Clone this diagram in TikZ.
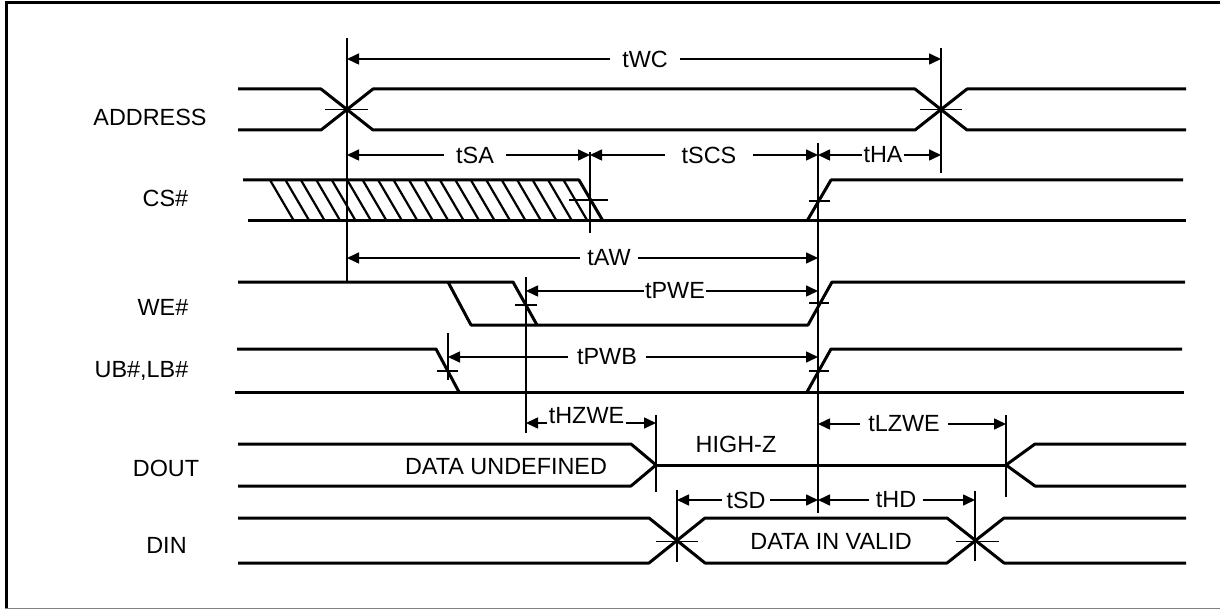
\documentclass[tikz,border=0pt]{standalone}
\usepackage{fontspec}
\setmainfont{Liberation Sans}
\usetikzlibrary{arrows.meta}
\tikzset{
  wave/.style={line width=1.5pt, line join=round},
  thinline/.style={line width=0.8pt},
  hatchline/.style={line width=1.1pt},
  dim/.style={thinline, -{Triangle[length=6pt,width=5.5pt]}},
  lbl/.style={font=\fontsize{11.7pt}{14pt}\selectfont, inner sep=0pt},
  dlbl/.style={lbl, inner xsep=#1},
  sig/.style={lbl, anchor=base},
}
\begin{document}
\begin{tikzpicture}[x=0.5pt,y=-0.5pt]
\useasboundingbox (0,0) rectangle (1220,609);
% frame
\draw[line width=1.5pt] (6.5,609) -- (6.5,2.5) -- (1220,2.5);
\draw[gray, line width=0.5pt] (5,608.3) -- (1220,608.3);

% signal names
\node[sig] (nADDR) at (150,126) {ADDRESS};
\node[sig] (nCS)   at (165.4,207) {CS\#};
\node[sig] (nWE)   at (163,315) {WE\#};
\node[sig] (nUB)   at (141.5,377) {UB\#,LB\#};
\node[sig] (nDOUT) at (166,476) {DOUT};
\node[sig] (nDIN)  at (166.5,553) {DIN};

% ADDRESS
\draw[wave] (238,89) -- (321,89) -- (373,130) -- (915,130) -- (967,89) -- (1186,89);
\draw[wave] (238,130) -- (321,130) -- (373,89) -- (915,89) -- (967,130) -- (1186,130);
\draw[thinline] (325,109.5) -- (368,109.5);
\draw[thinline] (920,109.5) -- (962,109.5);

% CS#
\draw[wave] (243,180) -- (579,180) -- (603,221);
\draw[wave] (248,221) -- (1186,221);
\draw[wave] (807,221) -- (831,180) -- (1183,180);
\foreach \k in {0,...,19}
  \draw[hatchline] ({270+15.45*\k},180) -- ({294+15.45*\k},221);
\draw[thinline] (569,200) -- (608,200);
\draw[thinline] (809,201) -- (830,201);

% WE#
\draw[wave] (238,282) -- (513,282) -- (537,325);
\draw[wave] (448,282) -- (471,325) -- (808,325) -- (832,282) -- (1185,282);
\draw[thinline] (515,305) -- (537,305);
\draw[thinline] (809,303) -- (829,303);

% UB#,LB#
\draw[wave] (237,349) -- (436,349) -- (459,392);
\draw[wave] (235,392) -- (1184,392);
\draw[wave] (807,392) -- (831,349) -- (1182,349);
\draw[thinline] (437,371) -- (458,371);
\draw[thinline] (809,371) -- (829,371);

% DOUT
\draw[wave] (238,444) -- (631,444) -- (656,465) -- (631,486) -- (238,486);
\draw[wave] (656,465) -- (1006,465);
\draw[wave] (1186,444) -- (1035,444) -- (1006,465) -- (1035,486) -- (1186,486);
\node[sig] (undef) at (506,474) {DATA UNDEFINED};
\node[sig] (highz) at (736,452) {HIGH-Z};

% DIN
\draw[wave] (238,518) -- (649,518) -- (705,563) -- (947,563) -- (1004,518) -- (1186,518);
\draw[wave] (238,563) -- (649,563) -- (705,518) -- (947,518) -- (1004,563) -- (1186,563);
\draw[thinline] (656,541.5) -- (698,541.5);
\draw[thinline] (956,541.5) -- (999,541.5);
\node[sig] (valid) at (831,549) {DATA IN VALID};

% reference verticals
\coordinate (vA) at (347,38);   \coordinate (vAb) at (347,282);
\coordinate (vB) at (941,48);   \coordinate (vBb) at (941,173);
\coordinate (vC) at (590,152);  \coordinate (vCb) at (590,233);
\coordinate (vD) at (818,143);  \coordinate (vDb) at (818,513);
\coordinate (vE) at (526,277);  \coordinate (vEb) at (526,433);
\coordinate (vF) at (448,333);  \coordinate (vFb) at (448,380);
\coordinate (vG) at (656,415);  \coordinate (vGb) at (656,492);
\coordinate (vH) at (1006,415); \coordinate (vHb) at (1006,497);
\coordinate (vI) at (677,490);  \coordinate (vIb) at (677,562);
\coordinate (vJ) at (975,491);  \coordinate (vJb) at (975,561);
\foreach \v in {A,B,C,D,E,F,G,H,I,J}
  \draw[thinline] (v\v) -- (v\v b);

% timing dimensions
\node[dlbl=5.75pt] (tWC) at (645,59) {tWC};
\draw[dim] (tWC.west) -- (tWC.west -| vA);
\draw[dim] (tWC.east) -- (tWC.east -| vB);

\node[dlbl=6pt] (tSA) at (475,155) {tSA};
\draw[dim] (tSA.west) -- (tSA.west -| vA);
\draw[dim] (tSA.east) -- (tSA.east -| vC);

\node[dlbl=8pt] (tSCS) at (709,155) {tSCS};
\draw[dim] (tSCS.west) -- (tSCS.west -| vC);
\draw[dim] (tSCS.east) -- (tSCS.east -| vD);

\node[dlbl=0.5pt] (tHA) at (883,155) {tHA};
\draw[dim] (tHA.west) -- (tHA.west -| vD);
\draw[dim] (tHA.east) -- (tHA.east -| vB);

\node[dlbl=3.5pt] (tAW) at (609,258) {tAW};
\draw[dim] (tAW.west) -- (tAW.west -| vA);
\draw[dim] (tAW.east) -- (tAW.east -| vD);

\node[dlbl=0.5pt] (tPWE) at (675,291) {tPWE};
\draw[dim] (tPWE.west) -- (tPWE.west -| vE);
\draw[dim] (tPWE.east) -- (tPWE.east -| vD);

\node[dlbl=4.5pt] (tPWB) at (607,357) {tPWB};
\draw[dim] (tPWB.west) -- (tPWB.west -| vF);
\draw[dim] (tPWB.east) -- (tPWB.east -| vD);

\node[dlbl=0.5pt, anchor=base] (tHZWE) at (586.5,423) {tHZWE};
\draw[dim] (tHZWE.base west) -- (tHZWE.base west -| vE);
\draw[dim] (tHZWE.base east) -- (tHZWE.base east -| vG);

\node[dlbl=4pt] (tLZWE) at (904,424) {tLZWE};
\draw[dim] (tLZWE.west) -- (tLZWE.west -| vD);
\draw[dim] (tLZWE.east) -- (tLZWE.east -| vH);

\node[dlbl=2pt] (tSD) at (746,500) {tSD};
\draw[dim] (tSD.west) -- (tSD.west -| vI);
\draw[dim] (tSD.east) -- (tSD.east -| vD);

\node[dlbl=3pt] (tHD) at (896,500) {tHD};
\draw[dim] (tHD.west) -- (tHD.west -| vD);
\draw[dim] (tHD.east) -- (tHD.east -| vJ);
\end{tikzpicture}
\end{document}
